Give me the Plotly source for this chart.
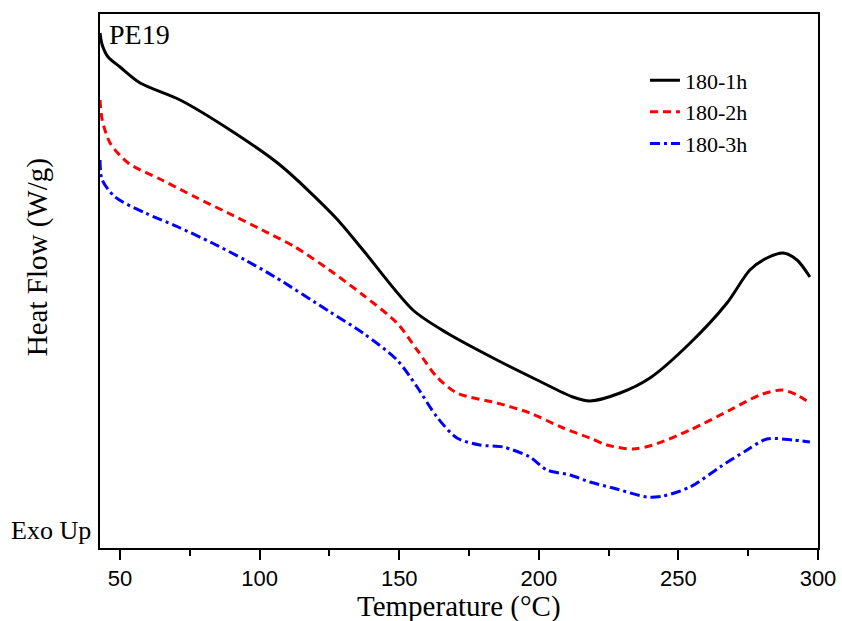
import plotly.graph_objects as go

# Temperature (°C) and heat flow (arbitrary units, exo up)
t_1h = [42.8, 43.6, 45.7, 50.0, 57.2, 71.5, 89.4, 107.3, 127.0, 137.0, 154.9, 167.1,
        185.0, 199.4, 212.2, 218.3, 229.1, 239.8, 254.2, 267.4, 275.6, 281.7, 287.5,
        292.5, 297.1]
hf_1h = [515, 503, 491, 481, 465, 448, 418, 383, 331, 298, 238, 215,
         188, 168, 151, 147, 155, 170, 205, 245, 278, 290, 295,
         288, 271]

t_2h = [42.8, 43.6, 46.4, 52.9, 65.0, 76.9, 88.7, 100.9, 112.7, 125.0, 137.0, 149.2,
        156.4, 163.5, 170.7, 185.0, 196.8, 208.7, 218.3, 224.4, 233.7, 240.9, 254.2,
        268.5, 279.2, 287.1, 292.5, 297.1]
hf_2h = [448, 428, 405, 385, 368, 351, 335, 318, 301, 278, 253, 225,
         198, 171, 155, 145, 135, 120, 110, 103, 99, 103, 118,
         138, 153, 158, 153, 145]

t_3h = [42.8, 43.6, 48.2, 59.0, 70.8, 83.0, 94.8, 105.5, 125.2, 137.0, 149.2, 156.4,
        163.5, 170.7, 178.9, 187.2, 196.8, 202.9, 211.2, 218.3, 226.6, 238.8, 244.5,
        254.2, 264.9, 274.6, 281.7, 291.0, 297.1]
hf_3h = [388, 368, 351, 335, 321, 305, 288, 271, 236, 215, 188, 161,
         131, 110, 103, 101, 91, 78, 73, 66, 60, 51, 52,
         61, 81, 98, 109, 108, 106]

names = ["180-1h", "180-2h", "180-3h"]
x_ticks = [50, 100, 150, 200, 250, 300]

serif = "Liberation Serif, Times New Roman, serif"
sans = "Liberation Sans, Arial, sans-serif"

fig = go.Figure()
fig.add_trace(go.Scatter(x=t_1h, y=hf_1h, mode="lines", name=names[0],
                         line=dict(color="black", width=3, shape="spline", smoothing=0.8)))
fig.add_trace(go.Scatter(x=t_2h, y=hf_2h, mode="lines", name=names[1],
                         line=dict(color="#ff0000", width=3, dash="8px,5px", shape="spline", smoothing=0.8)))
fig.add_trace(go.Scatter(x=t_3h, y=hf_3h, mode="lines", name=names[2],
                         line=dict(color="#0000ff", width=3, dash="10px,4px,3px,4px", shape="spline", smoothing=0.8)))

fig.update_layout(
    width=842, height=621,
    margin=dict(l=100, r=24, t=14, b=73),
    paper_bgcolor="white", plot_bgcolor="white",
    showlegend=True,
    legend=dict(x=0.759, y=0.915, xanchor="left", yanchor="top",
                font=dict(family=serif, size=22, color="black"),
                bgcolor="rgba(0,0,0,0)", tracegroupgap=0, itemwidth=30),
    xaxis=dict(range=[42.8, 300], tickvals=x_ticks, ticks="outside", ticklen=10, tickwidth=2,
               tickcolor="black", showline=True, linecolor="black", linewidth=2, mirror=True,
               showgrid=False, zeroline=False, automargin=False,
               tickfont=dict(family=sans, size=22, color="black"),
               minor=dict(dtick=25, tick0=0, ticks="outside", ticklen=6, tickwidth=2, tickcolor="black")),
    yaxis=dict(range=[0, 534], showticklabels=False, ticks="", showline=True, linecolor="black",
               linewidth=2, mirror=True, showgrid=False, zeroline=False, automargin=False),
    annotations=[
        dict(text="PE19", x=0.01, y=0.995, xref="paper", yref="paper", xanchor="left", yanchor="top",
             showarrow=False, font=dict(family=serif, size=28, color="black")),
        dict(text="Exo Up", x=-0.01, y=0.032, xref="paper", yref="paper", xanchor="right", yanchor="middle",
             showarrow=False, font=dict(family=serif, size=26, color="black")),
        dict(text="Temperature (°C)", x=0.5, y=-0.11, xref="paper", yref="paper",
             xanchor="center", yanchor="middle", showarrow=False, borderpad=0,
             font=dict(family=serif, size=29, color="black")),
        dict(text="Heat Flow (W/g)", x=-0.086, y=0.545, xref="paper", yref="paper", textangle=-90,
             xanchor="center", yanchor="middle", showarrow=False,
             font=dict(family=serif, size=29, color="black")),
    ],
)

fig.write_html("out.html", config={"displayModeBar": False},
               post_script="document.body.style.margin='0';document.body.style.overflow='hidden';")
